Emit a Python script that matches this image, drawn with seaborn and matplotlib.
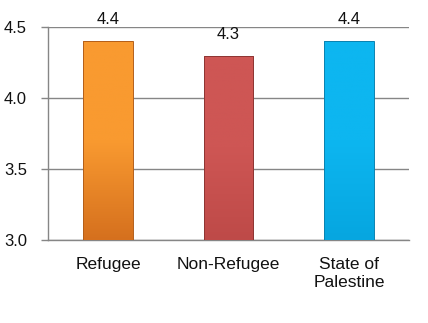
import numpy as np
import pandas as pd
import matplotlib
matplotlib.use("Agg")
import matplotlib.pyplot as plt
import seaborn as sns
from matplotlib.colors import LinearSegmentedColormap

categories = ["Refugee", "Non-Refugee", "State of\nPalestine"]
values = [4.4, 4.3, 4.4]
value_labels = ["4.4", "4.3", "4.4"]
yticks = [3.0, 3.5, 4.0, 4.5]
ytick_labels = ["3.0", "3.5", "4.0", "4.5"]

colors = ["#F99A30", "#CE5654", "#0DB6F0"]
dark = ["#D5701E", "#BE4A48", "#06A6E0"]
edges = ["#B35F1A", "#8E3634", "#0B82B0"]

sns.set_theme(style="white")
plt.rcParams['font.family'] = ['Liberation Sans', 'DejaVu Sans']

fig = plt.figure(figsize=(4.28, 3.23), dpi=100)
ax = fig.add_axes([0.112, 0.257, 0.844, 0.659])

df = pd.DataFrame({"cat": categories, "val": values})
sns.barplot(data=df, x="cat", y="val", hue="cat", palette=colors, legend=False,
            width=0.41, ax=ax, zorder=3, edgecolor="none")

ax.set_ylim(3.0, 4.5)
ax.set_xlim(-0.5, 2.5)

# gradient fill on bars
for p, c1, c2, ec in zip(ax.patches, colors, dark, edges):
    x0, y0 = p.get_x(), p.get_y()
    w, h = p.get_width(), p.get_height()
    cmap = LinearSegmentedColormap.from_list("g", [c2, c1, c1])
    grad = np.linspace(0, 1, 256).reshape(-1, 1)
    im = ax.imshow(grad, extent=[x0, x0 + w, 3.0, y0 + h], origin="lower",
                   aspect="auto", cmap=cmap, zorder=3.5)
    im.set_clip_path(p)
    p.set_edgecolor(ec)
    p.set_linewidth(0.7)
    p.set_zorder(4)
    p.set_facecolor("none")

ax.set_yticks(yticks)
ax.set_yticklabels(ytick_labels, fontsize=12, color="#111111")
ax.yaxis.grid(True, color="#868686", linewidth=1.0, zorder=0)
ax.set_xticks(range(len(categories)))
ax.set_xticklabels(categories, fontsize=12.5, color="#111111", linespacing=1.3)
ax.set_xticks([-0.5, 0.5, 1.5, 2.5], minor=True)
ax.tick_params(axis="x", which="major", length=0, pad=12)
ax.tick_params(axis="x", which="minor", length=5, color="#868686", width=1, direction="out")
ax.tick_params(axis="y", length=5, color="#868686", width=1, direction="out", pad=10, left=True)
ax.set_xlabel("")
ax.set_ylabel("")

for s in ["top", "right"]:
    ax.spines[s].set_visible(False)
for s in ["left", "bottom"]:
    ax.spines[s].set_color("#868686")
    ax.spines[s].set_linewidth(1.0)

for i, (v, lab) in enumerate(zip(values, value_labels)):
    ax.annotate(lab, (i, v), xytext=(0, 10), textcoords="offset points",
                ha="center", va="bottom", fontsize=12, color="#111111", zorder=5)

fig.savefig("out.png", dpi=100)
